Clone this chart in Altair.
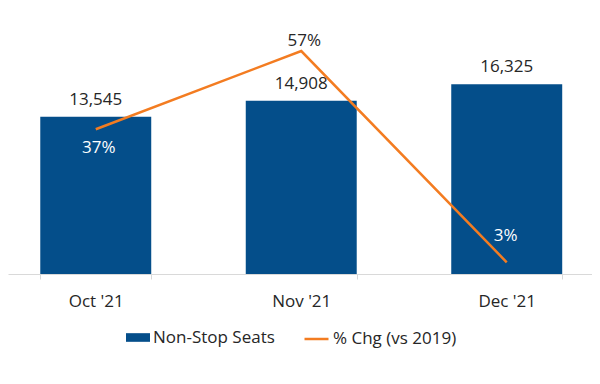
import altair as alt
import pandas as pd

months = ["Oct '21", "Nov '21", "Dec '21"]
seats = [13545, 14908, 16325]
pct_chg = [0.37, 0.57, 0.03]

df = pd.DataFrame({"month": months, "seats": seats, "pct": pct_chg})

BLUE = "#044E8A"
ORANGE = "#F37C21"
TEXT = "#262626"
GRID = "#D9D9D9"
FONT = "Open Sans"
FS = 17

base = alt.Chart(df).transform_calculate(
    s1="'Non-Stop Seats'", s2="'% Chg (vs 2019)'"
)

x = alt.X(
    "month:N",
    sort=months,
    scale=alt.Scale(paddingInner=0.46, paddingOuter=0.151, align=0.52),
    axis=alt.Axis(
        title=None, labelAngle=0, labelFontSize=FS, labelFont=FONT,
        labelColor=TEXT, labelPadding=14, tickBand="extent", tickSize=5,
        tickColor=GRID, domainColor=GRID, domainWidth=1,
    ),
)
y_seats = alt.Y("seats:Q", scale=alt.Scale(domain=[0, 22900], nice=False), axis=None)
y_pct = alt.Y("pct:Q", scale=alt.Scale(domain=[0, 0.68], nice=False), axis=None)

bars = base.mark_bar().encode(
    x=x,
    y=y_seats,
    color=alt.Color(
        "s1:N",
        scale=alt.Scale(domain=["Non-Stop Seats"], range=[BLUE]),
        legend=alt.Legend(
            title=None, orient="none", legendX=118, legendY=317.5,
            labelFontSize=FS, labelFont=FONT, labelColor=TEXT, labelOffset=3,
            symbolType="M-1,-0.36L1,-0.36L1,0.36L-1,0.36Z", symbolSize=576,
            symbolStrokeWidth=0, padding=0,
        ),
    ),
)

bar_labels = base.mark_text(dy=-17, fontSize=FS, font=FONT, color=TEXT).encode(
    x=x, y=y_seats, text=alt.Text("seats:Q", format=",")
)

line = base.mark_line(strokeWidth=2.5).encode(
    x=x,
    y=y_pct,
    stroke=alt.Stroke(
        "s2:N",
        scale=alt.Scale(domain=["% Chg (vs 2019)"], range=[ORANGE]),
        legend=alt.Legend(
            title=None, orient="none", legendX=295, legendY=317.5,
            labelFontSize=FS, labelFont=FONT, labelColor=TEXT, labelOffset=3,
            symbolType="stroke", symbolSize=576, symbolStrokeWidth=2.5, padding=0,
        ),
    ),
)

pct_text = alt.Text("pct:Q", format=".0%")
lab_oct = base.transform_filter(alt.datum.month == "Oct '21").mark_text(
    dy=19, dx=3, fontSize=FS, font=FONT, color="white"
).encode(x=x, y=y_pct, text=pct_text)
lab_nov = base.transform_filter(alt.datum.month == "Nov '21").mark_text(
    dy=-10, dx=3, fontSize=FS, font=FONT, color=TEXT
).encode(x=x, y=y_pct, text=pct_text)
lab_dec = base.transform_filter(alt.datum.month == "Dec '21").mark_text(
    dy=-26, dx=-1, fontSize=FS, font=FONT, color="white"
).encode(x=x, y=y_pct, text=pct_text)

chart = (
    alt.layer(bars, bar_labels, line, lab_oct, lab_nov, lab_dec)
    .resolve_scale(y="independent")
    .properties(
        width=584, height=266,
        autosize=alt.AutoSizeParams(type="none"),
        padding={"left": 0, "top": 0, "right": 0, "bottom": 100},
    )
    .configure_view(stroke=None)
)

chart.save("out.html", embed_options={"renderer": "svg", "actions": False})
